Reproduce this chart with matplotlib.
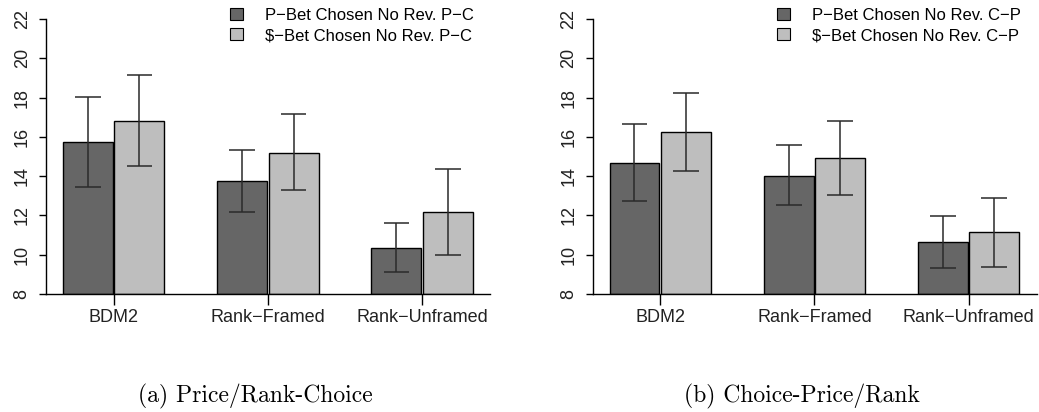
import matplotlib
matplotlib.use('Agg')
import matplotlib.pyplot as plt
import matplotlib.patches as mpatches

plt.rcParams['font.family'] = ['Liberation Sans', 'DejaVu Sans']

# ── データ ────────────────────────────────────────────────────────────────
categories = ['BDM2', 'Rank\u2212Framed', 'Rank\u2212Unframed']

# (a) Price/Rank-Choice
a_p_mean = [15.74, 13.75, 10.34]
a_p_low  = [13.46, 12.18, 9.10]
a_p_high = [18.03, 15.33, 11.60]
a_s_mean = [16.82, 15.19, 12.17]
a_s_low  = [14.52, 13.28, 9.98]
a_s_high = [19.15, 17.15, 14.35]

# (b) Choice-Price/Rank
b_p_mean = [14.69, 14.03, 10.63]
b_p_low  = [12.73, 12.53, 9.32]
b_p_high = [16.68, 15.56, 11.98]
b_s_mean = [16.25, 14.93, 11.14]
b_s_low  = [14.25, 13.05, 9.39]
b_s_high = [18.24, 16.81, 12.90]

y_ticks = [8, 10, 12, 14, 16, 18, 20, 22]

DARK  = '#666666'
LIGHT = '#bebebe'
ERR   = '#2a2a2a'

W, H = 1039, 412
fig = plt.figure(figsize=(W / 100, H / 100), dpi=100, facecolor='white')


def draw_panel(left_px, p_mean, p_low, p_high, s_mean, s_low, s_high,
               labels, caption):
    ax = fig.add_axes([left_px / W, (H - 294) / H, 444 / W, 275 / H])
    ax.set_facecolor('white')
    xs_p = [3 * g + 0.5 for g in range(len(categories))]
    xs_s = [3 * g + 1.5 for g in range(len(categories))]
    ax.bar(xs_p, [m - 8 for m in p_mean], bottom=8, width=0.97,
           color=DARK, edgecolor='black', lw=1.0, zorder=2)
    ax.bar(xs_s, [m - 8 for m in s_mean], bottom=8, width=0.97,
           color=LIGHT, edgecolor='black', lw=1.0, zorder=2)
    for xs, lo, hi in ((xs_p, p_low, p_high), (xs_s, s_low, s_high)):
        ax.vlines(xs, lo, hi, color=ERR, lw=1.1, zorder=3)
        ax.hlines(lo, [x - 0.25 for x in xs], [x + 0.25 for x in xs],
                  color=ERR, lw=1.1, zorder=3)
        ax.hlines(hi, [x - 0.25 for x in xs], [x + 0.25 for x in xs],
                  color=ERR, lw=1.1, zorder=3)

    ax.set_xlim(-0.317, -0.317 + 444 / 51.4)
    ax.set_ylim(8, 22)
    for side in ('top', 'right'):
        ax.spines[side].set_visible(False)
    ax.spines['left'].set_linewidth(1.0)
    ax.spines['bottom'].set_linewidth(1.0)

    ax.set_yticks(y_ticks)
    ax.set_yticklabels([str(t) for t in y_ticks], rotation=90, va='center',
                       fontsize=13, color='#222222')
    ax.tick_params(axis='y', length=5, width=1.0, pad=6)

    ax.set_xticks([3 * g + 1 for g in range(len(categories))])
    ax.set_xticklabels(categories, fontsize=13, color='#222222')
    ax.tick_params(axis='x', length=8, width=1.0, pad=3)

    handles = [mpatches.Patch(facecolor=DARK, edgecolor='black', lw=0.8),
               mpatches.Patch(facecolor=LIGHT, edgecolor='black', lw=0.8)]
    ax.legend(handles, labels, loc='upper left',
              bbox_to_anchor=((left_px + 184) / W, 1 - 8 / H),
              bbox_transform=fig.transFigure, frameon=False, fontsize=12,
              handlelength=0.8, handleheight=0.7, handletextpad=1.3,
              labelspacing=0.3, borderpad=0, borderaxespad=0)

    fig.text((left_px + 209) / W, 1 - 396 / H, caption, family='cmr10',
             fontsize=17, ha='center', va='center', color='black')


draw_panel(46, a_p_mean, a_p_low, a_p_high, a_s_mean, a_s_low, a_s_high,
           ['P\u2212Bet Chosen No Rev. P\u2212C',
            '$\u2212Bet Chosen No Rev. P\u2212C'],
           '(a) Price/Rank-Choice')
draw_panel(592.5, b_p_mean, b_p_low, b_p_high, b_s_mean, b_s_low, b_s_high,
           ['P\u2212Bet Chosen No Rev. C\u2212P',
            '$\u2212Bet Chosen No Rev. C\u2212P'],
           '(b) Choice-Price/Rank')

fig.savefig('out.png', dpi=100, facecolor='white')
